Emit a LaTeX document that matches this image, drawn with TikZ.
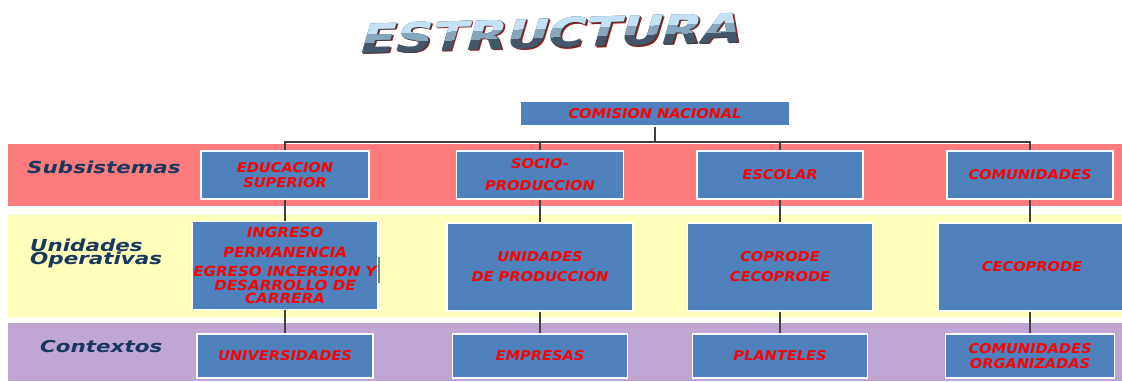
\documentclass[tikz,border=0pt]{standalone}
\usepackage{fontspec}
\setmainfont{DejaVu Sans}
\newfontfamily\lblfont{DejaVu Sans}[FakeStretch=1.3]
\newfontfamily\bxfont{DejaVu Sans}[FakeStretch=1.08]
\newfontfamily\ttlfont{DejaVu Sans}
\definecolor{bandred}{HTML}{FF7C7C}
\definecolor{bandyel}{HTML}{FFFFBB}
\definecolor{bandpur}{HTML}{C0A6D4}
\definecolor{boxblue}{HTML}{4F81BD}
\definecolor{txtred}{HTML}{FF0000}
\definecolor{navy}{HTML}{17375E}
\definecolor{linegray}{HTML}{404040}
\definecolor{steeldark}{HTML}{44566A}
\definecolor{steelmid}{HTML}{86A6BC}
\definecolor{steellight}{HTML}{C4E2F4}
\definecolor{shadowred}{HTML}{A01818}
\tikzset{
  box/.style={draw=white, line width=1.5pt, fill=boxblue, inner sep=0pt, align=center,
    text=txtred, font=\bxfont\bfseries\itshape\fontsize{13.5}{15}\selectfont},
  lbl/.style={text=navy, font=\lblfont\bfseries\itshape\fontsize{16.5}{13}\selectfont,
    inner sep=0pt, anchor=west, align=left},
  conn/.style={draw=linegray, line width=1.4pt},
  ttl/.style={font=\ttlfont\bfseries\fontsize{40}{40}\selectfont, inner sep=0pt}
}
\begin{document}
\begin{tikzpicture}[x=1pt,y=-1pt]
\useasboundingbox (0,0) rectangle (1122,381);
% bands
\fill[bandred] (8,144) rectangle (1122,206);
\fill[bandyel] (8,215) rectangle (1122,317);
\fill[bandpur] (8,323) rectangle (1122,381);
% title
\begin{scope}[shift={(552,33)}, rotate=1.7, xslant=0.33, xscale=1.28, transform shape]
  \node[ttl, text=shadowred] at (1.8,1.6) {ESTRUCTURA};
  \node[ttl, text=black!75] at (0.8,0.8) {ESTRUCTURA};
  \node[ttl, text=steeldark] (title) at (0,0) {ESTRUCTURA};
  \begin{scope}
    \clip (-220,-40) rectangle (220,4);
    \node[ttl, text=steelmid] at (0,0) {ESTRUCTURA};
  \end{scope}
  \begin{scope}
    \clip (-220,-40) rectangle (220,-5);
    \node[ttl, text=steellight] at (0,0) {ESTRUCTURA};
  \end{scope}
\end{scope}
% band labels
\node[lbl] (lsub) at (27,167) {Subsistemas};
\node[lbl] (luo) at (30,253) {Unidades\\Operativas};
\node[lbl] (lctx) at (40,346) {Contextos};
% boxes
\node[box, minimum width=270pt, minimum height=25pt] (cn) at (655,113.5) {COMISION NACIONAL};
\node[box, minimum width=168pt, minimum height=48pt] (s1) at (285,175) {EDUCACION\\SUPERIOR};
\node[box, minimum width=167pt, minimum height=48pt] (s2) at (540,175) {SOCIO-\\[7pt]PRODUCCION};
\node[box, minimum width=166pt, minimum height=48pt] (s3) at (780,175) {ESCOLAR};
\node[box, minimum width=166pt, minimum height=48pt] (s4) at (1030,175) {COMUNIDADES};
\node[box, minimum width=186pt, minimum height=88pt,
      font=\bxfont\bfseries\itshape\fontsize{14}{13.5}\selectfont] (u1) at (285,265.5)
  {INGRESO\\[6pt]PERMANENCIA\\[6pt]EGRESO INCERSION Y\\DESARROLLO DE\\CARRERA};
\node[box, minimum width=186pt, minimum height=88pt] (u2) at (540,267) {UNIDADES\\[5pt]DE PRODUCCIÓN};
\node[box, minimum width=185pt, minimum height=88pt] (u3) at (780,267) {COPRODE\\[5pt]CECOPRODE};
\node[box, minimum width=188pt, minimum height=88pt] (u4) at (1032,267) {CECOPRODE};
\node[box, minimum width=176pt, minimum height=44pt] (c1) at (285,356) {UNIVERSIDADES};
\node[box, minimum width=175pt, minimum height=44pt] (c2) at (540,356) {EMPRESAS};
\node[box, minimum width=175pt, minimum height=44pt] (c3) at (780,356) {PLANTELES};
\node[box, minimum width=169pt, minimum height=44pt] (c4) at (1030,356) {COMUNIDADES\\ORGANIZADAS};
% connectors
\coordinate (bus) at (655,142);
\draw[conn] (cn.south) -- (bus);
\draw[conn] (s1.north) -- (s1.north |- bus) -- (s4.north |- bus) -- (s4.north);
\draw[conn] (s2.north |- bus) -- (s2.north);
\draw[conn] (s3.north |- bus) -- (s3.north);
\draw[conn] (s1.south) -- (s1.south |- u1.north);
\draw[conn] (s2.south) -- (s2.south |- u2.north);
\draw[conn] (s3.south) -- (s3.south |- u3.north);
\draw[conn] (s4.south) -- (s4.south |- u4.north);
\draw[conn] (u1.south) -- (u1.south |- c1.north);
\draw[conn] (u2.south) -- (u2.south |- c2.north);
\draw[conn] (u3.south) -- (u3.south |- c3.north);
\draw[conn] (s4.south |- u4.south) -- (c4.north);
% small mark on the right edge of the first operative box
\draw[draw=gray, line width=1.5pt] (u1.east |- 0,257) -- (u1.east |- 0,283);
\end{tikzpicture}
\end{document}
